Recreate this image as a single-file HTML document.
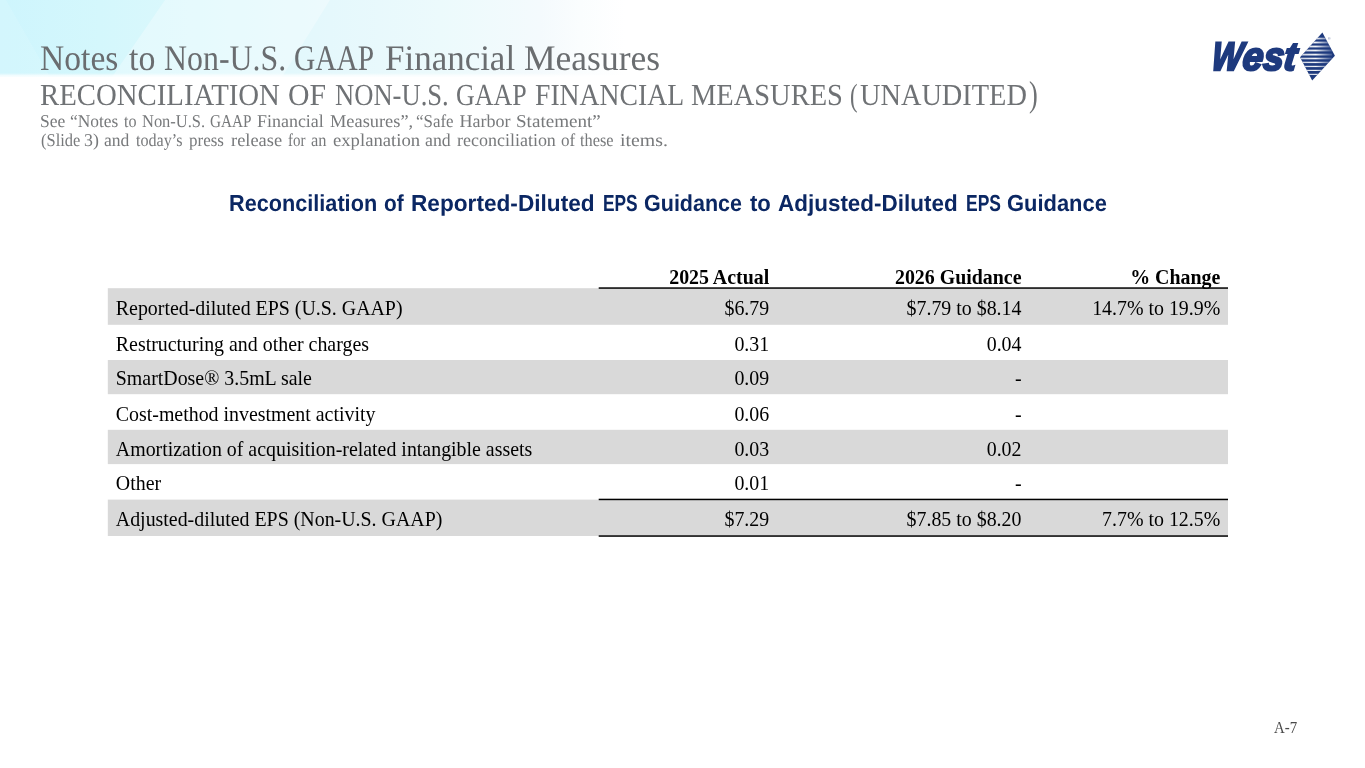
<!DOCTYPE html>
<html lang="en">
<head>
<meta charset="utf-8">
<title>Notes to Non-U.S. GAAP Financial Measures</title>
<style>
html,body{margin:0;padding:0;}
body{width:1365px;height:768px;overflow:hidden;background:#fff;position:relative;font-family:"Liberation Serif",serif;}
.band{position:absolute;left:0;top:0;}
.wl{position:absolute;left:0;width:1365px;white-space:nowrap;text-rendering:geometricPrecision;}
.wl span{position:absolute;top:0;left:0;transform-origin:0 0;white-space:nowrap;line-height:inherit;}
.h1{font-size:36px;line-height:40px;color:#6a6d70;}
.h2{font-size:30.5px;line-height:34px;color:#6f7275;}
.sub{font-size:18px;line-height:20px;color:#77797b;}
.ttl{font-family:"Liberation Sans",sans-serif;font-weight:bold;font-size:22.5px;line-height:30px;color:#0b2763;}
.tb{position:absolute;left:0;top:0;}
.tr{position:absolute;left:0;width:1365px;height:20px;font-size:19.9px;line-height:20px;color:#000;white-space:nowrap;}
.tr span{position:absolute;top:0;}
.tr .l{left:115.8px;}
.tr .r{text-align:right;}
.c2{right:595.8px;}
.c3{right:343.5px;}
.c4{right:144.7px;}
.hd{font-weight:bold;}
.logo{position:absolute;left:1200px;top:26px;}
.pg{position:absolute;left:1274.2px;top:718px;font-size:16.5px;color:#4a4a4a;transform-origin:0 0;transform:scaleX(0.9);white-space:nowrap;}
</style>
</head>
<body>
<svg class="band" width="1365" height="80" viewBox="0 0 1365 80">
<defs>
<linearGradient id="bg" gradientUnits="userSpaceOnUse" x1="0" y1="0" x2="625" y2="0">
<stop offset="0" stop-color="#cef5fd"/>
<stop offset="0.16" stop-color="#d4f7fc"/>
<stop offset="0.32" stop-color="#dcf8fc"/>
<stop offset="0.528" stop-color="#e5f8fc"/>
<stop offset="0.704" stop-color="#ecfafc"/>
<stop offset="0.864" stop-color="#f4fafd"/>
<stop offset="0.928" stop-color="#fafdfe"/>
<stop offset="1" stop-color="#ffffff"/>
</linearGradient>
<linearGradient id="bf" x1="0" y1="0" x2="0" y2="1"><stop offset="0" stop-color="#fff" stop-opacity="0"/><stop offset="1" stop-color="#fff" stop-opacity="1"/></linearGradient>
</defs>
<rect x="0" y="0" width="1365" height="77" fill="url(#bg)"/>
<polygon points="0,0 6,0 50,77 0,77" fill="#fff" fill-opacity="0.1"/>
<polygon points="165,0 330,0 282,77 112,77" fill="#fff" fill-opacity="0.3"/>
<rect x="0" y="73" width="1365" height="3.6" fill="url(#bf)"/>
<rect x="0" y="76.5" width="1365" height="3.5" fill="#fff"/>
</svg>
<div class="wl h1" style="top:38.2px"><span style="left:40.3px;transform:scaleX(0.9329);">Notes</span> <span style="left:129.1px;transform:scaleX(0.9407);">to</span> <span style="left:163.6px;transform:scaleX(0.8852);">Non-U.S.</span> <span style="left:294.2px;transform:scaleX(0.8167);">GAAP</span> <span style="left:384.9px;transform:scaleX(0.9712);">Financial</span> <span style="left:524.3px;transform:scaleX(0.9868);">Measures</span></div>
<div class="wl h2" style="top:77.9px"><span style="left:40.3px;transform:scaleX(0.9440);">RECONCILIATION</span> <span style="left:288.0px;transform:scaleX(0.9757);">OF</span> <span style="left:334.5px;transform:scaleX(0.8719);">NON-U.S.</span> <span style="left:455.6px;transform:scaleX(0.8519);">GAAP</span> <span style="left:535.3px;transform:scaleX(0.9068);">FINANCIAL</span> <span style="left:691.0px;transform:scaleX(0.9337);">MEASURES</span> <span style="left:850.3px;transform:scaleX(0.7111);font-size:32px;">(</span><span style="left:859.7px;transform:scaleX(0.9292);">UNAUDITED</span><span style="left:1028.5px;transform:scaleX(0.7300);font-size:36px;top:-1.2px;">)</span></div>
<div class="wl sub" style="top:111.2px"><span style="left:39.5px;transform:scaleX(0.9760);">See</span> <span style="left:70.1px;transform:scaleX(0.9653);">“Notes</span> <span style="left:124.1px;transform:scaleX(0.8929);">to</span> <span style="left:142.1px;transform:scaleX(0.9147);">Non-U.S.</span> <span style="left:209.8px;transform:scaleX(0.8449);">GAAP</span> <span style="left:257.1px;transform:scaleX(0.9970);">Financial</span> <span style="left:330.0px;transform:scaleX(1.0210);">Measures”,</span> <span style="left:415.7px;transform:scaleX(0.9385);">“Safe</span> <span style="left:459.5px;transform:scaleX(1.0000);">Harbor</span> <span style="left:515.7px;transform:scaleX(1.0603);">Statement”</span></div>
<div class="wl sub" style="top:130.4px"><span style="left:40.5px;transform:scaleX(0.9140);">(Slide</span> <span style="left:84.3px;transform:scaleX(0.9929);">3)</span> <span style="left:104.2px;transform:scaleX(0.9769);">and</span> <span style="left:135.9px;transform:scaleX(0.8942);">today’s</span> <span style="left:189.4px;transform:scaleX(0.9432);">press</span> <span style="left:230.5px;transform:scaleX(1.0220);">release</span> <span style="left:287.8px;transform:scaleX(0.8286);">for</span> <span style="left:310.9px;transform:scaleX(0.9118);">an</span> <span style="left:332.5px;transform:scaleX(1.0369);">explanation</span> <span style="left:425.1px;transform:scaleX(0.9885);">and</span> <span style="left:456.5px;transform:scaleX(0.9990);">reconciliation</span> <span style="left:561.1px;transform:scaleX(0.9467);">of</span> <span style="left:580.3px;transform:scaleX(0.9081);">these</span> <span style="left:620.1px;transform:scaleX(1.1000);">items.</span></div>
<div class="wl ttl" style="top:188.7px"><span style="left:229.0px;transform-origin:0 22.8px;transform:scale(0.9632,1.03);">Reconciliation</span> <span style="left:383.5px;transform-origin:0 22.8px;transform:scale(0.9238,1.03);">of</span> <span style="left:411.3px;transform-origin:0 22.8px;transform:scale(1.0061,1.03);">Reported-Diluted</span> <span style="left:602.6px;transform-origin:0 22.8px;transform:scale(0.7698,1.03);">EPS</span> <span style="left:644.0px;transform-origin:0 22.8px;transform:scale(0.9564,1.03);">Guidance</span> <span style="left:749.6px;transform-origin:0 22.8px;transform:scale(0.9810,1.03);">to</span> <span style="left:777.6px;transform-origin:0 22.8px;transform:scale(0.9983,1.03);">Adjusted-Diluted</span> <span style="left:965.5px;transform-origin:0 22.8px;transform:scale(0.7767,1.03);">EPS</span> <span style="left:1006.9px;transform-origin:0 22.8px;transform:scale(0.9743,1.03);">Guidance</span></div>
<svg class="tb" width="1365" height="768" viewBox="0 0 1365 768">
<rect x="107.8" y="288.2" width="1120.2" height="36.6" fill="#d9d9d9"/>
<rect x="107.8" y="360.0" width="1120.2" height="34.2" fill="#d9d9d9"/>
<rect x="107.8" y="429.8" width="1120.2" height="34.3" fill="#d9d9d9"/>
<rect x="107.8" y="499.6" width="1120.2" height="36.4" fill="#d9d9d9"/>
<rect x="598.7" y="287.30" width="629.3" height="1.5" fill="#000"/>
<rect x="598.7" y="498.70" width="629.3" height="1.5" fill="#000"/>
<rect x="598.7" y="535.30" width="629.3" height="1.5" fill="#000"/>
</svg>
<div class="tr" style="top:298.0px"><span class="l">Reported-diluted EPS (U.S. GAAP)</span><span class="r c2">$6.79</span><span class="r c3">$7.79 to $8.14</span><span class="r c4">14.7% to 19.9%</span></div>
<div class="tr" style="top:333.6px"><span class="l">Restructuring and other charges</span><span class="r c2">0.31</span><span class="r c3">0.04</span></div>
<div class="tr" style="top:368.3px"><span class="l">SmartDose® 3.5mL sale</span><span class="r c2">0.09</span><span class="r c3">-</span></div>
<div class="tr" style="top:403.6px"><span class="l">Cost-method investment activity</span><span class="r c2">0.06</span><span class="r c3">-</span></div>
<div class="tr" style="top:438.6px"><span class="l">Amortization of acquisition-related intangible assets</span><span class="r c2">0.03</span><span class="r c3">0.02</span></div>
<div class="tr" style="top:473.3px"><span class="l">Other</span><span class="r c2">0.01</span><span class="r c3">-</span></div>
<div class="tr" style="top:509.3px"><span class="l">Adjusted-diluted EPS (Non-U.S. GAAP)</span><span class="r c2">$7.29</span><span class="r c3">$7.85 to $8.20</span><span class="r c4">7.7% to 12.5%</span></div>
<div class="tr hd" style="top:266.8px"><span class="r c2">2025 Actual</span><span class="r c3">2026 Guidance</span><span class="r c4">% Change</span></div>
<svg class="logo" width="150" height="60" viewBox="1200 26 150 60">
<defs>
<clipPath id="dm"><polygon points="1322.4,32.4 1334.9,55.7 1312.2,80.5 1300,57.2"/></clipPath>
<linearGradient id="fade" x1="1300" y1="0" x2="1335" y2="0" gradientUnits="userSpaceOnUse"><stop offset="0" stop-color="#fff" stop-opacity="0.75"/><stop offset="0.45" stop-color="#fff" stop-opacity="0.95"/><stop offset="0.8" stop-color="#fff" stop-opacity="0.35"/><stop offset="1" stop-color="#fff" stop-opacity="0"/></linearGradient>
</defs>
<text transform="translate(1210.6 69.5) skewX(-7) scale(0.9 1)" y="0" font-family="Liberation Sans, sans-serif" font-weight="bold" font-style="italic" font-size="39.6" fill="#1e3a7e" stroke="#1e3a7e" stroke-width="2.4" stroke-linejoin="miter"><tspan x="0" textLength="34" lengthAdjust="spacingAndGlyphs">W</tspan><tspan x="34.4" textLength="59.5" lengthAdjust="spacingAndGlyphs">est</tspan></text>
<polygon points="1322.4,32.4 1334.9,55.7 1312.2,80.5 1300,57.2" fill="#1e3a7e"/>
<g clip-path="url(#dm)" fill="url(#fade)">
<rect x="1298" y="37.7" width="34" height="1.7"/>
<rect x="1298" y="41.6" width="34" height="1.8"/>
<rect x="1298" y="45.6" width="34" height="1.8"/>
<rect x="1298" y="49.6" width="34" height="1.8"/>
<rect x="1298" y="53.7" width="34" height="1.8"/>
<rect x="1298" y="57.7" width="34" height="1.6"/>
<rect x="1298" y="61.7" width="34" height="1.4"/>
<rect x="1298" y="65.8" width="34" height="1.3"/>
<rect x="1298" y="69.8" width="34" height="1.2"/>
<rect x="1298" y="73.8" width="34" height="1.1"/>
</g>
<text x="1328" y="40" font-family="Liberation Sans, sans-serif" font-size="3.5" fill="#5a6a9a">®</text>
</svg>
<div class="pg">A-7</div>
</body>
</html>
